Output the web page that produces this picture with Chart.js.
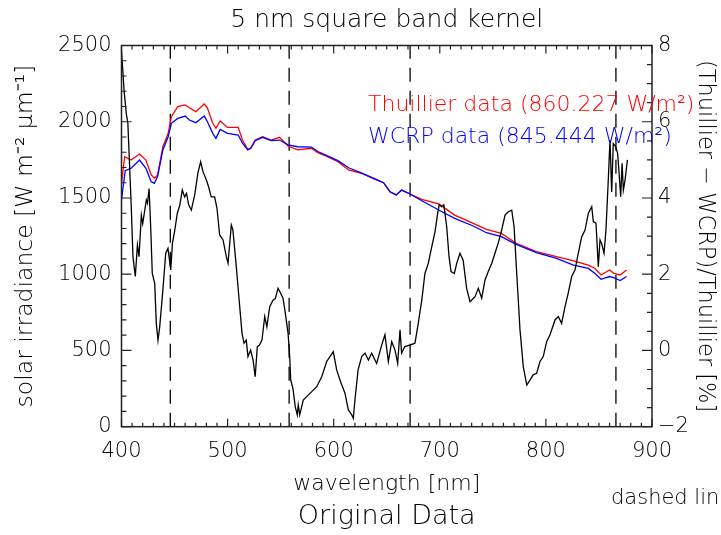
<!DOCTYPE html>
<html><head><meta charset="utf-8">
<script src="https://cdn.jsdelivr.net/npm/chart.js@4.4.1/dist/chart.umd.min.js"></script>
<style>html,body{margin:0;padding:0;background:#fff;}canvas{display:block;}</style>
</head><body>
<canvas id="c" width="721" height="535"></canvas>
<script>
// ---- data ----
const thuillierWl = [400,403,409,417,423,428,431,434,439,444,447,453,460,464,470,478,481,486,489,493,500,510,514,519,522,526,533,541,549,557,566,579,585,593,604,614,626,639,647,653,659,664,672,683,699,714,731,744,758,772,791,810,826,840,846,852,860,864,870,876];
const thuillierVal = [1596,1771,1749,1788,1749,1651,1629,1651,1836,1924,2033,2099,2110,2092,2066,2116,2090,1990,1957,2005,1963,1963,1880,1819,1827,1880,1902,1880,1898,1841,1815,1826,1797,1775,1738,1684,1662,1622,1600,1541,1520,1552,1526,1491,1461,1388,1335,1294,1268,1203,1148,1115,1087,1060,1039,995,1028,1006,995,1028];
const wcrpWl = [400,403.5,409,417,423,428,431,434,439,444,447,453,460,464,470,478,481,486,489,493,500,510,514,519,522,526,533,541,549,557,566,579,585,593,604,614,626,639,647,653,659,664,672,683,699,714,731,744,758,772,791,810,826,840,846,852,860,864,870,876];
const wcrpVal = [1487,1679,1695,1749,1695,1607,1596,1640,1815,1902,1990,2022,2037,2011,1994,2037,2000,1924,1891,1950,1924,1913,1859,1815,1827,1876,1898,1876,1880,1848,1836,1834,1805,1780,1745,1698,1665,1625,1600,1541,1520,1552,1526,1482,1421,1366,1318,1272,1246,1196,1141,1104,1060,1038,1006,967,985,978,958,985];
const ratioWl = [400,401.4,402.4,404.5,406,409.2,410.8,413,415,416.5,418.7,420,423.4,424.5,426,427.5,429,431.3,432.8,434.4,436,439,441.7,443.8,446.4,448,450,452.6,455,457.3,459.5,461.3,463.3,465.8,469,472,474.6,476.8,480,482,484.6,487.8,490,492.5,495.7,498.8,500.4,503.5,505,508.2,509.8,513.6,515.5,517.6,519.2,521.7,524,526,528,530,532.4,535,537,539.7,542.8,545,547.5,550,552.2,554,557,558.5,559.5,561.6,563.8,565.7,566.6,568,571.3,574.5,579.3,584,588.7,593.4,596.5,599.6,602.8,606,610.6,613.8,617,618.5,620,623,626.4,629.5,632.7,635.8,640.5,645.2,648.3,651.5,654.7,657.8,660.3,662.5,664,667,671.9,676.6,679.7,683,686,689.2,692.4,695.5,698,699.5,701.6,703.8,706.5,708.7,710.6,713.7,716,719,722,725.3,728.5,733.2,736.3,739.5,742.6,745.7,749,752,755,758.3,761.5,764.6,767.8,770,772.5,775.6,778.7,782,785,788,791.3,794.4,797.5,800.7,803.9,808.6,811.7,814.8,818,821,824.3,827.4,830.5,833.7,836.9,840,843.2,844.7,847.2,849.4,851,852.5,854.8,856.6,858.8,860.4,862,863.5,865.7,867.6,869,870.5,871.8,873,874.6,876.8];
const ratioVal = [7.84,7.27,6.83,6.22,5.96,3.77,2.46,1.94,2.77,2.46,3.55,3.33,3.95,3.86,4.25,3.25,2.02,1.76,0.71,0.27,0.62,1.59,2.55,2.68,2.11,2.81,3.12,3.60,3.82,4.21,4.03,4.12,3.82,3.68,4.08,4.65,4.95,4.69,4.47,4.30,4.03,4.03,3.73,3.03,2.90,2.46,2.29,3.29,3.16,2.20,1.67,0.45,0.19,0.27,-0.16,0.01,-0.25,-0.69,0.10,0.14,0.27,0.89,0.62,1.15,1.32,1.36,1.63,1.50,1.37,1.06,0.45,-0.16,-0.78,-1.00,-1.48,-1.69,-1.43,-1.69,-1.30,-1.21,-1.08,-0.95,-0.69,-0.29,-0.16,-0.03,-0.51,-0.78,-1.12,-1.56,-1.69,-1.78,-1.30,-0.51,-0.16,-0.07,-0.25,-0.07,-0.34,0.14,0.41,-0.29,0.23,0.01,-0.34,0.54,-0.07,0.10,0.14,0.19,0.71,1.32,2.02,2.29,2.72,3.12,3.60,3.82,3.77,3.82,3.25,2.46,2.07,2.02,2.29,2.55,2.37,1.63,1.28,1.41,1.63,1.37,1.85,2.07,2.29,2.55,2.81,3.16,3.55,3.64,3.68,3.25,2.02,0.54,-0.43,-0.91,-0.78,-0.64,-0.60,-0.29,-0.16,0.23,0.41,0.80,0.89,0.71,1.15,1.50,1.94,2.11,2.55,2.98,3.16,3.60,3.77,3.38,3.34,2.20,2.90,2.81,2.55,3.16,4.47,5.52,4.16,5.43,5.35,5.17,4.65,4.03,4.91,4.21,4.47,5.00];
const bandLines = [446, 558, 672, 866];
const xRange = [400, 900];
const yRange = [0, 2500];
const y2Range = [-2, 8];
const titleText = '5 nm square band kernel';
const subtitleText = 'Original Data';
const xTitle = 'wavelength [nm]';
const yTitle = 'solar irradiance [W m\u207B\u00B2 \u03BCm\u207B\u00B9]';
const y2Title = '(Thuillier \u2212 WCRP)/Thuillier [%]';
const legendThuillier = 'Thuillier data (860.227 W/m\u00B2)';
const legendWcrp = 'WCRP data (845.444 W/m\u00B2)';
const footNote = 'dashed lin';

const FONT = "'DejaVu Sans', 'Liberation Sans', sans-serif";
const FW = '200';
const TXT = '#000';

const pts = (xs, ys) => xs.map((x, i) => ({x, y: ys[i]}));

const datasets = [
  {label: 'ratio', data: pts(ratioWl, ratioVal), yAxisID: 'y2', borderColor: '#000', borderWidth: 1.3, order: 0},
  {label: 'Thuillier', data: pts(thuillierWl, thuillierVal), yAxisID: 'y', borderColor: '#ff0000', borderWidth: 1.3, order: 2},
  {label: 'WCRP', data: pts(wcrpWl, wcrpVal), yAxisID: 'y', borderColor: '#0000ff', borderWidth: 1.3, order: 1},
];
bandLines.forEach(b => datasets.push({
  label: 'band ' + b, data: [{x: b, y: yRange[0]}, {x: b, y: yRange[1]}], yAxisID: 'y',
  borderColor: '#000', borderWidth: 1.3, borderDash: [14, 9], order: 3
}));
datasets.forEach(d => { d.pointRadius = 0; d.fill = false; d.tension = 0; });

const framePlugin = {
  id: 'frameTicks',
  afterDatasetsDraw(chart) {
    const {ctx, chartArea: a, scales} = chart;
    ctx.save();
    ctx.strokeStyle = '#222';
    ctx.lineWidth = 1.5;
    ctx.strokeRect(a.left, a.top, a.right - a.left, a.bottom - a.top);
    ctx.lineWidth = 1.2;
    ctx.beginPath();
    for (let v = xRange[0]; v <= xRange[1]; v += 10) {
      const px = scales.x.getPixelForValue(v);
      const L = (v % 100 === 0) ? 8 : 4;
      ctx.moveTo(px, a.bottom); ctx.lineTo(px, a.bottom - L);
      ctx.moveTo(px, a.top); ctx.lineTo(px, a.top + L);
    }
    for (let v = yRange[0]; v <= yRange[1]; v += 100) {
      const py = scales.y.getPixelForValue(v);
      const L = (v % 500 === 0) ? 10 : 5;
      ctx.moveTo(a.left, py); ctx.lineTo(a.left + L, py);
    }
    for (let v = y2Range[0]; v <= y2Range[1] + 1e-9; v += 0.5) {
      const py = scales.y2.getPixelForValue(v);
      const L = (Math.abs(v % 2) < 1e-9) ? 10 : 5;
      ctx.moveTo(a.right, py); ctx.lineTo(a.right - L, py);
    }
    ctx.stroke();
    ctx.restore();
  },
  afterDraw(chart) {
    const {ctx} = chart;
    ctx.save();
    ctx.font = FW + ' 22px ' + FONT;
    ctx.textBaseline = 'alphabetic';
    ctx.textAlign = 'left';
    ctx.fillStyle = '#ff0000';
    ctx.fillText(legendThuillier, 368, 111);
    ctx.fillStyle = '#0000ff';
    ctx.fillText(legendWcrp, 368, 143);
    ctx.fillStyle = TXT;
    ctx.font = FW + ' 21px ' + FONT;
    ctx.fillText(footNote, 611, 504);
    ctx.restore();
  }
};

new Chart(document.getElementById('c'), {
  type: 'line',
  data: {datasets},
  plugins: [framePlugin],
  options: {
    responsive: false, animation: false, devicePixelRatio: 1,
    layout: {padding: 0},
    plugins: {
      legend: {display: false}, tooltip: {enabled: false},
      title: {display: true, fullSize: false, text: titleText, color: TXT, font: {family: FONT, size: 25, weight: FW}, padding: {top: 5, bottom: 10.5}},
      subtitle: {display: true, fullSize: false, position: 'bottom', text: subtitleText, color: TXT, font: {family: FONT, size: 27, weight: FW}, padding: {top: 0, bottom: 1.8}}
    },
    scales: {
      x: {
        type: 'linear', min: xRange[0], max: xRange[1], position: 'bottom',
        grid: {display: false, drawTicks: false}, border: {display: false},
        ticks: {stepSize: 100, padding: 12, color: TXT, font: {family: FONT, size: 21, weight: FW}, autoSkip: false, maxRotation: 0, callback: v => String(v)},
        title: {display: true, text: xTitle, color: TXT, font: {family: FONT, size: 22, weight: FW}, padding: {top: 0, bottom: 3.2}},
        afterFit: s => { s.height = 74.1; }
      },
      y: {
        type: 'linear', min: yRange[0], max: yRange[1], position: 'left',
        grid: {display: false, drawTicks: false}, border: {display: false},
        ticks: {stepSize: 500, padding: 10, color: TXT, font: {family: FONT, size: 21, weight: FW}, callback: v => String(v)},
        title: {display: true, text: yTitle, color: TXT, font: {family: FONT, size: 23.5, weight: FW}, padding: {top: 12, bottom: 0}},
        afterFit: s => { s.width = 121.5; }
      },
      y2: {
        type: 'linear', min: y2Range[0], max: y2Range[1], position: 'right',
        grid: {display: false, drawTicks: false}, border: {display: false},
        ticks: {stepSize: 2, padding: 6, color: TXT, font: {family: FONT, size: 21, weight: FW}, callback: v => String(v).replace('-', '\u2212')},
        title: {display: true, text: y2Title, color: TXT, font: {family: FONT, size: 22.5, weight: FW}, padding: {top: 2.5, bottom: 0}},
        afterFit: s => { s.width = 69; }
      }
    }
  }
});
</script>
</body></html>
